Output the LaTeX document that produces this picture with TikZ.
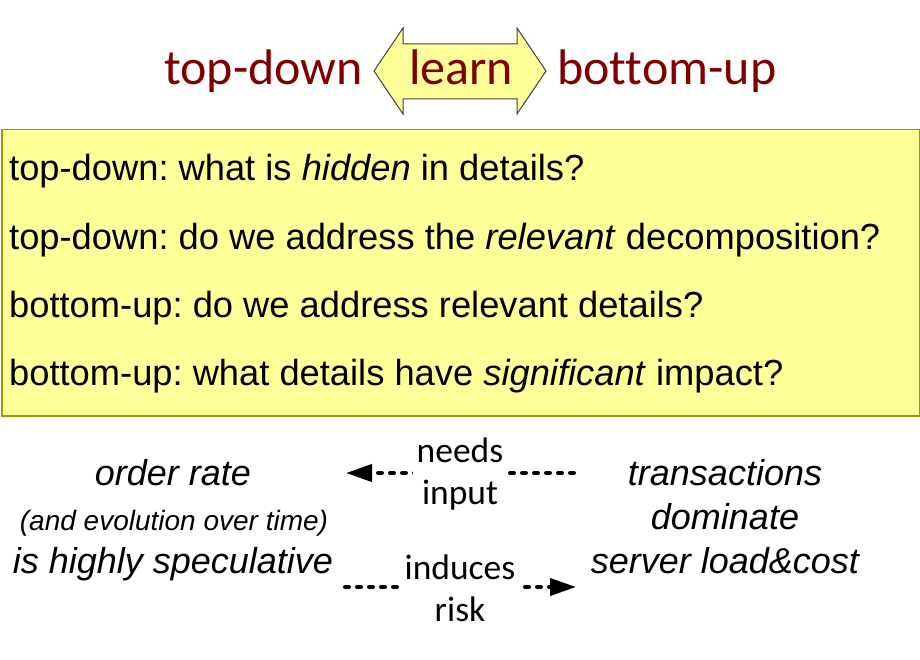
\documentclass[tikz,border=0pt]{standalone}
\usepackage{fontspec}
\setmainfont{Liberation Sans}
\newfontfamily\calfont[Ligatures=NoCommon]{Carlito}
\usetikzlibrary{arrows.meta}
\definecolor{darkred}{HTML}{800000}
\definecolor{paleyellow}{HTML}{FFFF99}
\definecolor{boxedge}{HTML}{999900}
\definecolor{arrowedge}{HTML}{404040}
\frenchspacing
\tikzset{
  titletext/.style={font=\calfont\fontsize{50}{58}\selectfont, text=darkred, inner sep=0pt},
  boxtext/.style={font=\fontsize{36.3}{42}\selectfont, anchor=base west, inner sep=0pt},
  bottomtext/.style={font=\itshape\fontsize{36}{42}\selectfont, anchor=base, inner sep=0pt},
  smalltext/.style={font=\itshape\fontsize{28}{32}\selectfont, anchor=base, inner sep=0pt},
  flowlabel/.style={font=\calfont\fontsize{35.5}{42}\selectfont, fill=white, align=center, inner xsep=4pt, inner ysep=0pt},
  dotted arrow/.style={line width=4pt, line cap=round, dash pattern=on 4pt off 8pt, -{Triangle[length=26pt,width=17pt,line cap=butt,line join=miter]}},
}
\begin{document}
\begin{tikzpicture}[x=1pt,y=-1pt]
\path[use as bounding box] (0,0) rectangle (920,660);
% title
\filldraw[fill=paleyellow, draw=arrowedge, line width=1pt]
  (374,71) -- (403,28) -- (403,44) -- (517,44) -- (517,28) -- (546,71)
  -- (517,114) -- (517,99) -- (403,99) -- (403,114) -- cycle;
\node[titletext, anchor=base] (learn) at (461,85) {learn};
\node[titletext, anchor=base east] (td) at (363,85) {top-down};
\node[titletext, anchor=base west] (bu) at (557,85) {bottom-up};
% yellow box
\node[draw=boxedge, fill=paleyellow, line width=1.5pt, minimum width=918pt, minimum height=286pt, inner sep=0pt, anchor=north west] (box) at (1,129) {};
\node[boxtext] (q1) at (9,181) {top-down: what is \textit{hidden} in details?};
\node[boxtext] (q2) at (9,249) {top-down: do we address the \textit{relevant} decomposition?};
\node[boxtext] (q3) at (9,317) {bottom-up: do we address relevant details?};
\node[boxtext] (q4) at (9,385) {bottom-up: what details have \textit{significant} impact?};
% bottom texts
\node[bottomtext] (l1) at (173,485) {order rate};
\node[smalltext] (l2) at (174,530) {(and evolution over time)};
\node[bottomtext] (l3) at (173,573) {is highly speculative};
\node[bottomtext] (r1) at (725,485) {transactions};
\node[bottomtext] (r2) at (725,529) {dominate};
\node[bottomtext] (r3) at (725,573) {server load\&cost};
% arrows
\coordinate (a1s) at (574,473);
\coordinate (a1e) at (346,473);
\coordinate (a2s) at (345,587);
\coordinate (a2e) at (576,587);
\draw[dotted arrow] (a1s) -- (a1e);
\draw[dotted arrow] (a2s) -- (a2e);
\node[flowlabel] (lab1) at (460,474) {needs\\input};
\node[flowlabel] (lab2) at (460,588) {induces\\risk};
\end{tikzpicture}
\end{document}
